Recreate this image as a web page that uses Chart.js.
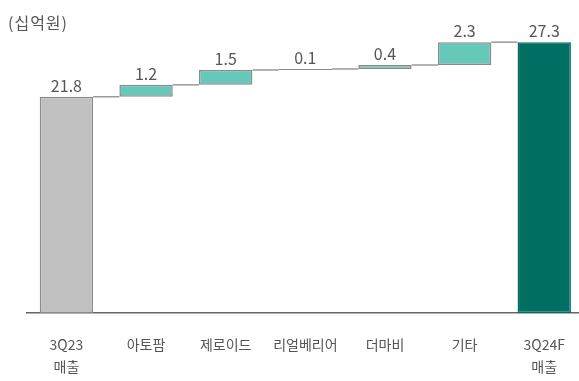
<!DOCTYPE html>
<html><head><meta charset="utf-8">
<script src="https://cdn.jsdelivr.net/npm/chart.js@4/dist/chart.umd.min.js"></script>
<style>
html,body{margin:0;padding:0;background:#fff;overflow:hidden;}
#wrap{position:relative;width:586px;height:381px;}
#unit{position:absolute;left:8px;top:10px;font:16px "Noto Sans CJK KR","Noto Sans",sans-serif;color:#555;letter-spacing:1px;}
</style></head>
<body>
<div id="wrap"><canvas id="c" width="586" height="381"></canvas><div id="unit">(십억원)</div></div>
<script>
const categories = [["3Q23","매출"],"아토팜","제로이드","리얼베리어","더마비","기타",["3Q24F","매출"]];
const values = [21.8, 1.2, 1.5, 0.1, 0.4, 2.3, 27.3];
const isTotal = [true, false, false, false, false, false, true];
const valueLabels = ["21.8","1.2","1.5","0.1","0.4","2.3","27.3"];

let cum = 0;
const ranges = values.map((v, i) => {
  if (isTotal[i]) { cum = v; return [0, v]; }
  const r = [cum, cum + v]; cum += v; return r;
});
const fills = values.map((v, i) => i === 0 ? '#c0c0c0' : (i === values.length - 1 ? '#006e62' : '#66c8b8'));
const borders = values.map((v, i) => i === values.length - 1 ? '#006e62' : '#8a8a8a');

const overlay = {
  id: 'overlay',
  afterDatasetsDraw(chart) {
    const ctx = chart.ctx;
    const meta = chart.getDatasetMeta(0);
    const y = chart.scales.y;
    ctx.save();
    ctx.strokeStyle = '#9a9a9a';
    ctx.lineWidth = 1.5;
    for (let i = 0; i < meta.data.length - 1; i++) {
      const a = meta.data[i], b = meta.data[i + 1];
      const level = y.getPixelForValue(ranges[i][1]);
      ctx.beginPath();
      ctx.moveTo(a.x + a.width / 2, level);
      ctx.lineTo(b.x - b.width / 2, level);
      ctx.stroke();
    }
    ctx.fillStyle = '#555';
    ctx.font = '16px "Noto Sans CJK KR", "Noto Sans", sans-serif';
    ctx.textAlign = 'center';
    ctx.textBaseline = 'bottom';
    meta.data.forEach((el, i) => {
      const top = y.getPixelForValue(Math.max(ranges[i][0], ranges[i][1]));
      ctx.fillText(valueLabels[i], el.x, top - 3);
    });
    ctx.restore();
  }
};

new Chart(document.getElementById('c'), {
  type: 'bar',
  data: {
    labels: categories,
    datasets: [{
      data: ranges,
      backgroundColor: fills,
      borderColor: borders,
      borderWidth: 1.5,
      borderSkipped: false,
      categoryPercentage: 1,
      barPercentage: 0.67
    }]
  },
  options: {
    responsive: false,
    animation: false,
    layout: { padding: { left: 26.6, right: 0.6, top: 15.4, bottom: 0 } },
    plugins: { legend: { display: false }, tooltip: { enabled: false } },
    scales: {
      x: {
        grid: { display: false, drawTicks: false },
        border: { display: true, color: '#666', width: 1.5 },
        ticks: {
          color: '#555',
          font: { family: '"Noto Sans CJK KR", "Noto Sans", sans-serif', size: 14, lineHeight: 1.55 },
          padding: 21,
          maxRotation: 0,
          autoSkip: false
        },
        afterFit(scale) { scale.height = 68; }
      },
      y: { display: false, min: 0, max: 30 }
    }
  },
  plugins: [overlay]
});
</script>
</body></html>
